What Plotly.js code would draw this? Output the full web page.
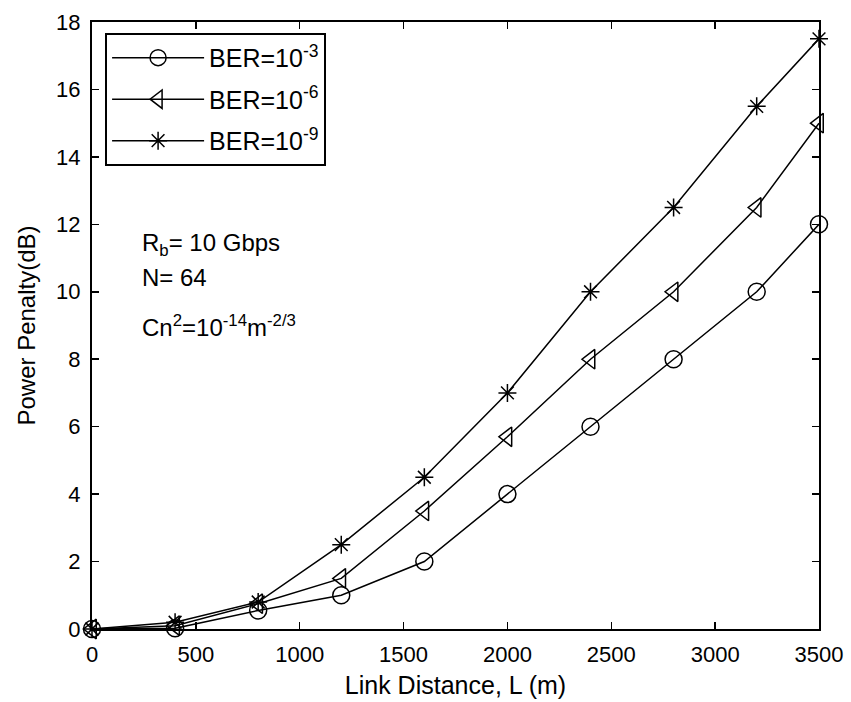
<!DOCTYPE html>
<html>
<head>
<meta charset="utf-8">
<script src="https://cdn.plot.ly/plotly-3.0.1.min.js"></script>
<style>html,body{margin:0;padding:0;background:#fff;}#chart{width:851px;height:702px;}</style>
</head>
<body>
<div id="chart"></div>
<script>
const linkDistance = [0, 400, 800, 1200, 1600, 2000, 2400, 2800, 3200, 3500];
const penaltyBER3 = [0, 0.02, 0.55, 1.0, 2.0, 4.0, 6.0, 8.0, 10.0, 12.0];
const penaltyBER6 = [0, 0.1, 0.75, 1.5, 3.5, 5.7, 8.0, 10.0, 12.5, 15.0];
const penaltyBER9 = [0, 0.2, 0.8, 2.5, 4.5, 7.0, 10.0, 12.5, 15.5, 17.5];
const seriesNames = ['BER=10<sup>-3</sup>', 'BER=10<sup>-6</sup>', 'BER=10<sup>-9</sup>'];
const xTicks = [0, 500, 1000, 1500, 2000, 2500, 3000, 3500];
const yTicks = [0, 2, 4, 6, 8, 10, 12, 14, 16, 18];

const fam = 'Liberation Sans, Arial, sans-serif';
const tickFont = {family: fam, size: 22, color: '#000'};
const textFont = {family: fam, size: 24, color: '#000'};
function mk(y, name, symbol, size, grp) {
  return {
    x: linkDistance, y: y, name: name, type: 'scatter', mode: 'lines+markers',
    legendgroup: grp,
    line: {color: '#000', width: 1.5},
    marker: {symbol: symbol, size: size, color: '#000', line: {color: '#000', width: 1.5}},
    cliponaxis: false
  };
}
const data = [
  mk(penaltyBER3, seriesNames[0], 'circle-open', 17, 'a'),
  mk(penaltyBER6, seriesNames[1], 'triangle-left-open', 17, 'b'),
  mk(penaltyBER9, seriesNames[2], 'asterisk-open', 15, 'c')
];
const axisCommon = {
  showline: true, linecolor: '#000', linewidth: 2, mirror: 'ticks',
  ticks: 'inside', ticklen: 7, tickwidth: 1.5, tickcolor: '#000',
  showgrid: false, zeroline: false, tickfont: tickFont, ticklabelstandoff: 5
};
const layout = {
  width: 851, height: 702,
  margin: {l: 92, r: 32, t: 22, b: 73},
  paper_bgcolor: '#fff', plot_bgcolor: '#fff',
  font: textFont,
  showlegend: true,
  legend: {
    x: 0.018, y: 0.982, xanchor: 'left', yanchor: 'top',
    bordercolor: '#000', borderwidth: 2, bgcolor: '#fff',
    font: {family: fam, size: 25, color: '#000'}, traceorder: 'grouped', tracegroupgap: 6,
    itemwidth: 92
  },
  xaxis: Object.assign({}, axisCommon, {
    range: [0, 3500], tickvals: xTicks,
    title: {text: 'Link Distance, L (m)', font: {family: fam, size: 25, color: '#000'}, standoff: 10}
  }),
  yaxis: Object.assign({}, axisCommon, {
    range: [0, 18], tickvals: yTicks,
    title: {text: 'Power Penalty(dB)', font: textFont, standoff: 14}
  }),
  annotations: [
    {xref: 'paper', yref: 'paper', x: 0.066, y: 0.633, xanchor: 'left', yanchor: 'middle', showarrow: false,
     text: 'R<sub>b</sub>= 10 Gbps', font: textFont},
    {xref: 'paper', yref: 'paper', x: 0.066, y: 0.579, xanchor: 'left', yanchor: 'middle', showarrow: false,
     text: 'N= 64', font: textFont},
    {xref: 'paper', yref: 'paper', x: 0.066, y: 0.500, xanchor: 'left', yanchor: 'middle', showarrow: false,
     text: 'Cn<sup>2</sup>=10<sup>-14</sup>m<sup>-2/3</sup>', font: textFont}
  ]
};
Plotly.newPlot('chart', data, layout, {staticPlot: true});
</script>
</body>
</html>
